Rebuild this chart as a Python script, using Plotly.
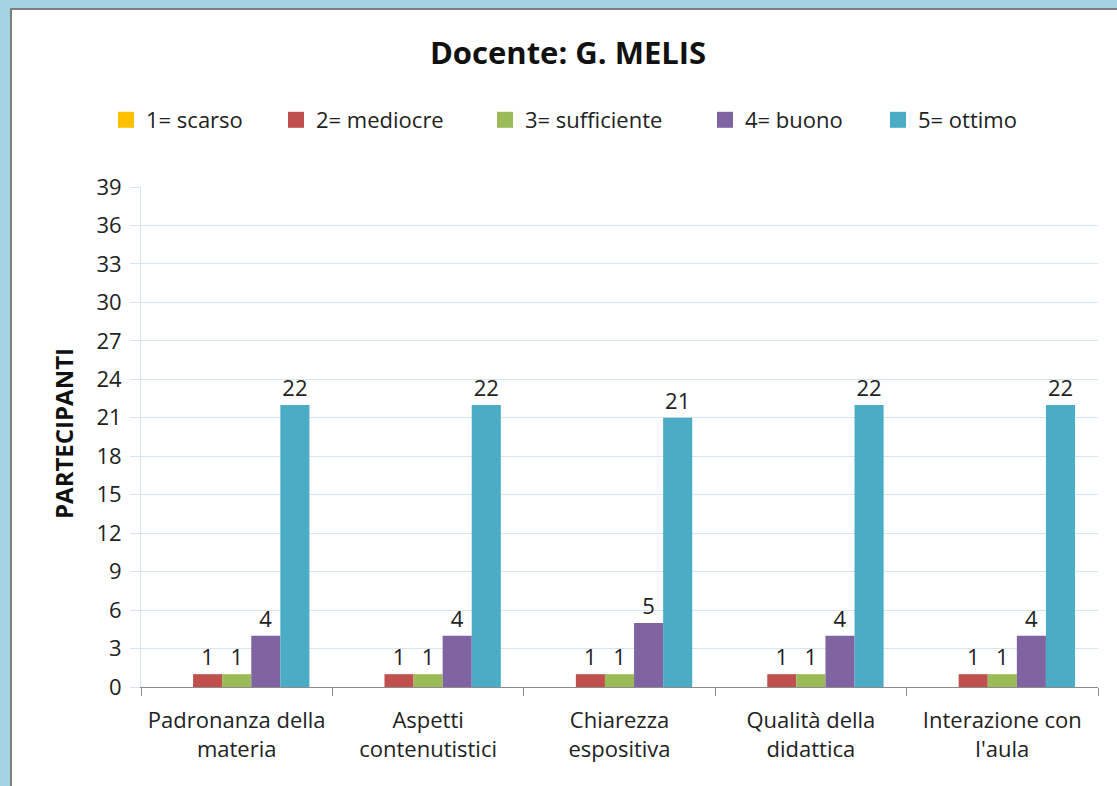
import plotly.graph_objects as go

categories = ["Padronanza della<br>materia", "Aspetti<br>contenutistici", "Chiarezza<br>espositiva",
              "Qualità della<br>didattica", "Interazione con<br>l'aula"]
series_names = ["1= scarso", "2= mediocre", "3= sufficiente", "4= buono", "5= ottimo"]
scarso = [0, 0, 0, 0, 0]
mediocre = [1, 1, 1, 1, 1]
sufficiente = [1, 1, 1, 1, 1]
buono = [4, 4, 5, 4, 4]
ottimo = [22, 22, 21, 22, 22]
colors = ["#FFC000", "#C0504D", "#9BBB59", "#8064A2", "#4BACC6"]
y_ticks = list(range(0, 40, 3))

W, H = 1117, 786
L, R, T, B = 141, 19, 187, 99
pw, ph = W - L - R, H - T - B

def px(x):
    return (x - L) / pw

def py(y):
    return (H - B - y) / ph

# pixel centres of the legend squares in the reference
legend_centres = [126, 296, 505, 725, 898]

FONT = "Open Sans"
FS = 22
fig = go.Figure()
for i, (name, vals, c) in enumerate(zip(series_names, [scarso, mediocre, sufficiente, buono, ottimo], colors)):
    fig.add_trace(go.Bar(
        x=categories, y=vals, name=name, marker_color=c, marker_line_width=0, showlegend=False,
        text=[str(v) if v else "" for v in vals], textposition="outside",
        textfont=dict(size=FS, color="#222222", family=FONT), cliponaxis=False,
    ))
for i, (name, c) in enumerate(zip(series_names, colors)):
    lg = "legend" if i == 0 else f"legend{i + 1}"
    fig.add_trace(go.Scatter(
        x=[None], y=[None], mode="markers", name=name, legend=lg,
        marker=dict(symbol="square", size=16, color=c), hoverinfo="skip",
    ))

layout_legends = {}
for i, cx in enumerate(legend_centres):
    key = "legend" if i == 0 else f"legend{i + 1}"
    layout_legends[key] = dict(
        xref="container", yref="container",
        x=(cx - 20) / W, xanchor="left", y=1 - 120 / H, yanchor="middle",
        font=dict(size=FS, family=FONT, color="#222222"), bgcolor="rgba(0,0,0,0)",
        borderwidth=0, itemwidth=30,
    )

fig.update_layout(
    width=W, height=H,
    margin=dict(l=L, r=R, t=T, b=B, autoexpand=False),
    paper_bgcolor="#a3d3e3", plot_bgcolor="rgba(0,0,0,0)",
    barmode="group", bargap=0.24, bargroupgap=0,
    font=dict(family=FONT, size=FS, color="#222222"),
    title=dict(text="<b>Docente: G. MELIS</b>", x=px(568), xref="paper", xanchor="center",
               y=1 - 53 / H, yanchor="middle", font=dict(size=31, color="#111111", family=FONT)),
    shapes=[dict(type="rect", xref="paper", yref="paper", x0=px(11), x1=px(W + 20),
                 y0=py(H + 20), y1=py(9), fillcolor="white",
                 line=dict(color="#7f7f7f", width=2), layer="below")],
    annotations=[dict(text="<b>PARTECIPANTI</b>", textangle=-90, xref="paper", yref="paper",
                      x=px(63), y=py(434), xanchor="center", yanchor="middle", showarrow=False,
                      font=dict(size=24, family=FONT, color="#111111"))],
    **layout_legends,
)
fig.update_yaxes(range=[0, 39], tickvals=y_ticks, showgrid=True, gridcolor="#d9e4f2", gridwidth=1,
                 showline=True, linecolor="#d9e4f2", linewidth=1, ticks="outside", ticklen=10,
                 tickcolor="#d9e4f2", zeroline=False, tickfont=dict(size=FS), ticklabelstandoff=4)
fig.update_xaxes(showline=True, linecolor="#8c8c8c", linewidth=1, ticks="outside", ticklen=8,
                 tickcolor="#8c8c8c", tickson="boundaries", tickfont=dict(size=FS),
                 tickangle=0, ticklabelstandoff=14)

fig.write_html("out.html", config={"displayModeBar": False},
               post_script="document.body.style.margin='0';")
